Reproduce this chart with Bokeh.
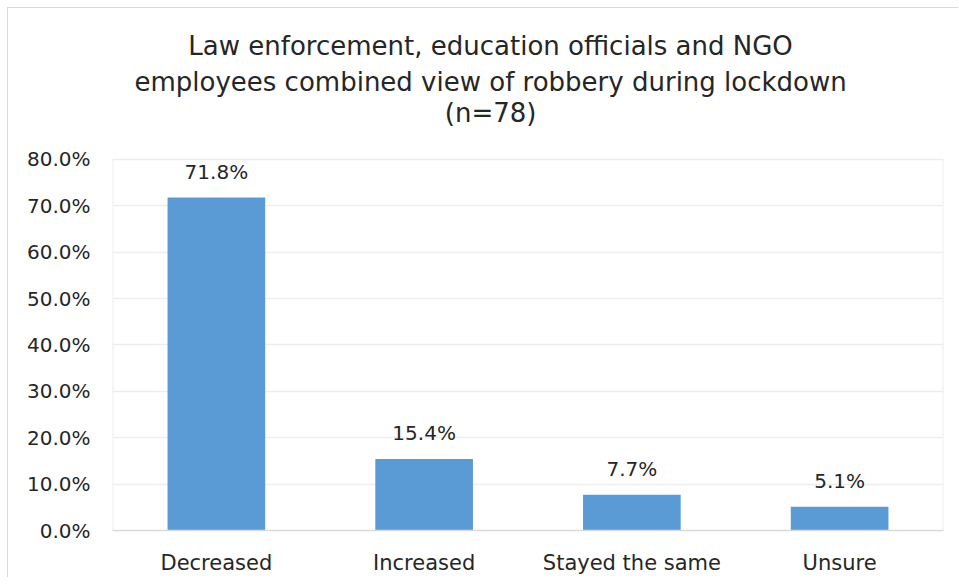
from bokeh.plotting import figure
from bokeh.models import FixedTicker, PrintfTickFormatter, ColumnDataSource, Range1d
from bokeh.core.properties import value
from bokeh.embed import file_html
from bokeh.resources import INLINE

categories = ["Decreased", "Increased", "Stayed the same", "Unsure"]
percentages = [71.8, 15.4, 7.7, 5.1]
value_labels = ["71.8%", "15.4%", "7.7%", "5.1%"]
y_ticks = [0, 10, 20, 30, 40, 50, 60, 70, 80]
title_lines = [
    "Law enforcement, education officials and NGO",
    "employees combined view of robbery during lockdown",
    "(n=78)",
]

FONT = "DejaVu Sans"
TEXT_COLOR = "#262626"
BAR_COLOR = "#5B9BD5"
FRAME_COLOR = "#eeeeee"

n = len(categories)
x_pos = [i + 0.5 for i in range(n)]
y_max = y_ticks[-1]
source = ColumnDataSource(dict(x=x_pos, val=percentages, lab=value_labels))

# frame spans the full figure height above the axis; the title area is the
# upper part of the y range (above the 80% line)
p = figure(
    x_range=Range1d(0, n),
    y_range=Range1d(0, 112.56),
    width=951, height=570,
    min_border_left=104, min_border_right=16,
    min_border_top=0, min_border_bottom=48,
    output_backend="svg", toolbar_location=None,
)
p.styles = {
    "margin-left": "7px", "margin-top": "7px",
    "border-left": "1px solid #d9d9d9", "border-top": "1px solid #d9d9d9",
}
p.outline_line_color = None
p.background_fill_color = "white"
p.border_fill_color = "white"

# plot-area outline (left and right edges; top edge is the 80% gridline)
p.segment(x0=[0, n], y0=[0, 0], x1=[0, n], y1=[y_max, y_max], line_color=FRAME_COLOR, line_width=2)

p.vbar(x="x", top="val", width=0.47, source=source, fill_color=BAR_COLOR, line_color=None)
p.text(x="x", y="val", text="lab", source=source, text_align="center", text_baseline="bottom",
       y_offset=-14, text_font=value(FONT), text_font_size="20px", text_color=TEXT_COLOR)

# chart title
title_src = ColumnDataSource(dict(x=[1.82] * 3, y=[104.4, 96.8, 90.1], t=title_lines))
p.text(x="x", y="y", text="t", source=title_src, text_align="center", text_baseline="alphabetic",
       text_font=value(FONT), text_font_size="26px", text_color=TEXT_COLOR)

# axes
p.yaxis.ticker = FixedTicker(ticks=y_ticks)
p.yaxis.formatter = PrintfTickFormatter(format="%.1f%%")
p.yaxis.axis_line_color = None
p.yaxis.major_tick_line_color = None
p.yaxis.minor_tick_line_color = None
p.yaxis.major_label_standoff = 16
p.yaxis.major_label_text_font = FONT
p.yaxis.major_label_text_font_size = "20px"
p.yaxis.major_label_text_color = TEXT_COLOR

p.xaxis.ticker = FixedTicker(ticks=x_pos)
p.xaxis.major_label_overrides = {x: c for x, c in zip(x_pos, categories)}
p.xaxis.axis_line_color = "#d9d9d9"
p.xaxis.axis_line_width = 1.5
p.xaxis.major_tick_line_color = None
p.xaxis.minor_tick_line_color = None
p.xaxis.major_label_standoff = 14
p.xaxis.major_label_text_font = FONT
p.xaxis.major_label_text_font_size = "21px"
p.xaxis.major_label_text_color = TEXT_COLOR

p.xgrid.grid_line_color = None
p.ygrid.grid_line_color = FRAME_COLOR
p.ygrid.grid_line_width = 1.5

open("out.html", "w").write(file_html(p, INLINE))
